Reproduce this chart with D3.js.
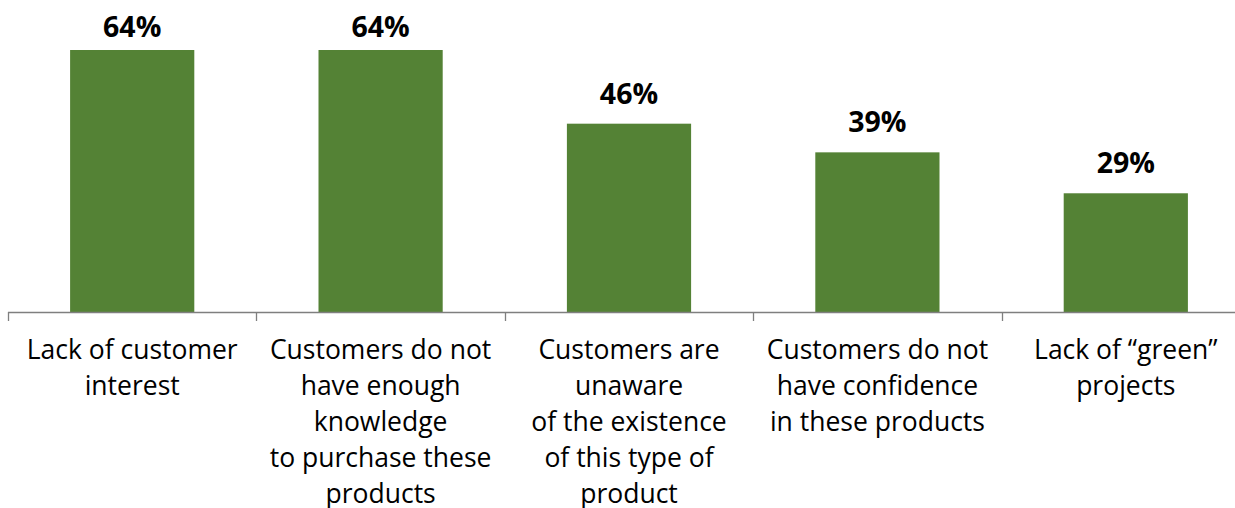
<!DOCTYPE html>
<html>
<head>
<meta charset="utf-8">
<script src="https://cdn.jsdelivr.net/npm/d3@7"></script>
<style>
  html, body { margin: 0; padding: 0; background: #fff; }
  svg { display: block; font-family: "Open Sans", "Noto Sans", sans-serif; }
</style>
</head>
<body>
<svg id="chart" width="1235" height="508"></svg>
<script>
// Barriers to selling green products — share of respondents
const categories = [
  ["Lack of customer", "interest"],
  ["Customers do not", "have enough", "knowledge", "to purchase these", "products"],
  ["Customers are", "unaware", "of the existence", "of this type of", "product"],
  ["Customers do not", "have confidence", "in these products"],
  ["Lack of \u201cgreen\u201d", "projects"]
];
const values = [64, 64, 46, 39, 29];
const valueLabels = ["64%", "64%", "46%", "39%", "29%"];

const svg = d3.select("#chart");
const baseY = 312;

const x = d3.scaleBand()
  .domain(d3.range(categories.length))
  .range([8, 1250])
  .paddingInner(0.5)
  .paddingOuter(0.25);

const y = d3.scaleLinear()
  .domain([0, 64])
  .range([baseY, 50]);

// bars
svg.append("g")
  .selectAll("rect")
  .data(values)
  .join("rect")
  .attr("x", (d, i) => x(i))
  .attr("y", d => y(d))
  .attr("width", x.bandwidth())
  .attr("height", d => baseY - y(d))
  .attr("fill", "#548235");

// value labels above bars, kept inside the top edge
svg.append("g")
  .selectAll("text")
  .data(values)
  .join("text")
  .attr("x", (d, i) => x(i) + x.bandwidth() / 2)
  .attr("y", d => Math.max(y(d) - 20, 37))
  .attr("text-anchor", "middle")
  .attr("font-weight", "bold")
  .attr("font-size", 28.5)
  .attr("fill", "#000")
  .text((d, i) => valueLabels[i]);

// category axis with ticks at band boundaries
const step = x.step();
const x0 = 8;
const axis = svg.append("g");
axis.append("line")
  .attr("x1", x0).attr("x2", 1235)
  .attr("y1", baseY + 0.5).attr("y2", baseY + 0.5)
  .attr("stroke", "#7f7f7f").attr("stroke-width", 1.3);
axis.selectAll("line.tick")
  .data(d3.range(categories.length + 1))
  .join("line")
  .attr("class", "tick")
  .attr("x1", i => Math.round(x0 + i * step) + 0.5)
  .attr("x2", i => Math.round(x0 + i * step) + 0.5)
  .attr("y1", baseY).attr("y2", baseY + 9)
  .attr("stroke", "#7f7f7f").attr("stroke-width", 1.3);

// category labels
const labels = axis.selectAll("text")
  .data(categories)
  .join("text")
  .attr("text-anchor", "middle")
  .attr("font-size", 26.5)
  .attr("fill", "#000")
  .attr("transform", (d, i) => `translate(${x(i) + x.bandwidth() / 2},359)`);
labels.selectAll("tspan")
  .data(d => d)
  .join("tspan")
  .attr("x", 0)
  .attr("y", (d, j) => j * 36)
  .text(d => d);
</script>
</body>
</html>
